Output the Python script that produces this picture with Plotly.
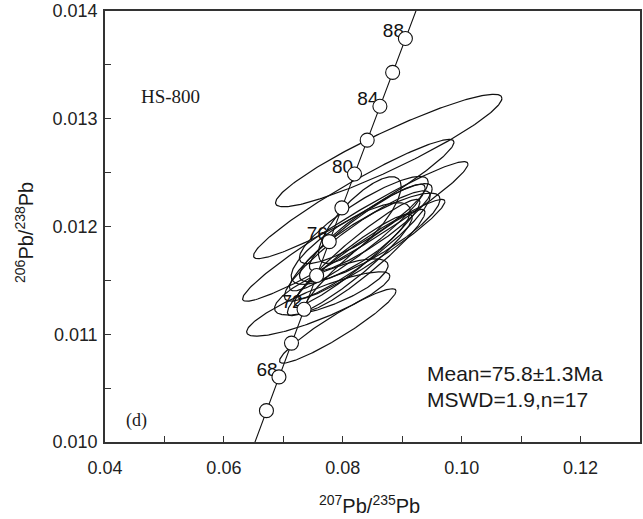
import numpy as np
import plotly.graph_objects as go

# ---- data: U-Pb analyses (207Pb/235U, 2s, 206Pb/238U, 2s, error correlation) ----
pb207_235 = [0.08773, 0.08185, 0.08210, 0.07588, 0.07916, 0.08244, 0.08244, 0.08244, 0.08454,
             0.08118, 0.08471, 0.08479, 0.08286, 0.08134, 0.08370, 0.07807, 0.08353]
err_207_235 = [0.01904, 0.01686, 0.01896, 0.01205, 0.00980, 0.01227, 0.01141, 0.01055, 0.01183,
               0.01049, 0.01033, 0.01239, 0.00696, 0.01002, 0.01014, 0.00955, 0.01084]
pb206_238 = [0.012705, 0.012255, 0.011954, 0.011281, 0.011077, 0.011819, 0.011898, 0.011759, 0.011898,
             0.011643, 0.011991, 0.011791, 0.012060, 0.011842, 0.011689, 0.011439, 0.012060]
err_206_238 = [0.000522, 0.000553, 0.000648, 0.000299, 0.000345, 0.000512, 0.000495, 0.000493, 0.000412,
               0.000471, 0.000407, 0.000460, 0.000402, 0.000379, 0.000470, 0.000261, 0.000405]
rho = [0.928, 0.952, 0.964, 0.864, 0.938, 0.911, 0.931, 0.947, 0.860,
       0.933, 0.886, 0.957, 0.775, 0.798, 0.943, 0.760, 0.868]

# concordia age markers (Ma) and labelled ages
marker_ages = [66, 68, 70, 72, 74, 76, 78, 80, 82, 84, 86, 88]
label_ages = [68, 72, 76, 80, 84, 88]
curve_age_span = [60, 95]

# decay constants (1/yr)
L238 = 1.55125e-10
L235 = 9.8485e-10

sample_name = "HS-800"
panel_tag = "(d)"
stat_lines = ["Mean=75.8\u00b11.3Ma", "MSWD=1.9,n=17"]

x_range = [0.04, 0.13]
y_range = [0.010, 0.014]

def conc_x(t):
    return np.exp(L235 * np.asarray(t, float) * 1e6) - 1

def conc_y(t):
    return np.exp(L238 * np.asarray(t, float) * 1e6) - 1

fig = go.Figure()

# error ellipses
tt = np.linspace(0, 2 * np.pi, 241)
for x0, sx, y0, sy, r in zip(pb207_235, err_207_235, pb206_238, err_206_238, rho):
    ex = x0 + sx * np.cos(tt)
    ey = y0 + sy * (r * np.cos(tt) + np.sqrt(1 - r * r) * np.sin(tt))
    fig.add_trace(go.Scatter(x=ex, y=ey, mode="lines", line=dict(color="#111", width=1.2),
                             hoverinfo="skip", showlegend=False))

# concordia curve
ages = np.arange(curve_age_span[0], curve_age_span[1] + 0.01, 0.5)
fig.add_trace(go.Scatter(x=conc_x(ages), y=conc_y(ages), mode="lines",
                         line=dict(color="#111", width=1.1), hoverinfo="skip", showlegend=False))

# plot geometry (pixels) for label offsets
PLOT_W, PLOT_H = 535, 431
px_x = (x_range[1] - x_range[0]) / PLOT_W
px_y = (y_range[1] - y_range[0]) / PLOT_H

fig.add_trace(go.Scatter(x=conc_x(label_ages) - 12 * px_x, y=conc_y(label_ages) + 6 * px_y,
                         mode="text", text=[str(a) for a in label_ages],
                         textfont=dict(family="Liberation Sans, Arial", size=19, color="#111"),
                         hoverinfo="skip", showlegend=False))

fig.add_trace(go.Scatter(x=conc_x(marker_ages), y=conc_y(marker_ages), mode="markers",
                         marker=dict(symbol="circle", size=14, color="white",
                                     line=dict(color="#111", width=1.1)),
                         showlegend=False))

ann_font = dict(family="Liberation Sans, Arial", color="#1a1a1a")
fig.add_annotation(x=0.0511, y=0.013202, text=sample_name, showarrow=False,
                   font=dict(family="Liberation Serif, Times New Roman", size=19, color="#1a1a1a"))
fig.add_annotation(x=0.04538, y=0.010204, text=panel_tag, showarrow=False,
                   font=dict(family="Liberation Serif, Times New Roman", size=18, color="#1a1a1a"))
fig.add_annotation(x=0.09378, y=0.010640, text=stat_lines[0], showarrow=False, xanchor="left",
                   yanchor="middle", font=dict(size=21, **ann_font))
fig.add_annotation(x=0.09378, y=0.010390, text=stat_lines[1], showarrow=False, xanchor="left",
                   yanchor="middle", font=dict(size=21, **ann_font))

# axis titles
fig.add_annotation(xref="paper", yref="paper", x=0.495, y=-0.145, xanchor="center", yanchor="middle",
                   text="<sup>207</sup>Pb/<sup>235</sup>Pb", showarrow=False,
                   font=dict(size=20, **ann_font))
fig.add_annotation(xref="paper", yref="paper", x=-0.1495, y=0.485, xanchor="center", yanchor="middle",
                   textangle=-90, text="<sup>206</sup>Pb/<sup>238</sup>Pb", showarrow=False,
                   font=dict(size=20, **ann_font))

axis_common = dict(showgrid=False, zeroline=False, showline=True, mirror=True,
                   linecolor="#333", linewidth=1.6, ticks="inside", ticklen=6,
                   tickcolor="#333", tickwidth=1, automargin=False,
                   tickfont=dict(family="Liberation Sans, Arial", size=18, color="#222"))

fig.update_xaxes(range=x_range, dtick=0.02, tick0=0.04, tickformat=".2f",
                 minor=dict(dtick=0.01, ticks="inside", ticklen=6, tickcolor="#333"),
                 ticklabelstandoff=9, **axis_common)
fig.update_yaxes(range=y_range, dtick=0.001, tick0=0.010, tickformat=".3f",
                 minor=dict(dtick=0.0005, ticks="inside", ticklen=6, tickcolor="#333"),
                 ticklabelstandoff=2, **axis_common)

fig.update_layout(width=643, height=519, margin=dict(l=105, r=3, t=11, b=77),
                  plot_bgcolor="white", paper_bgcolor="white", showlegend=False)

fig.write_html("out.html", config={"displayModeBar": False},
               post_script="document.body.style.margin='0';")
